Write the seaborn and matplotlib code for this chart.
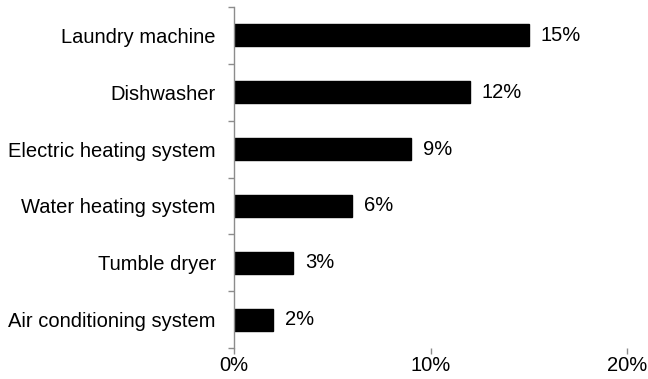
import matplotlib
matplotlib.use("Agg")
import matplotlib.pyplot as plt
import seaborn as sns
import pandas as pd
import numpy as np

categories = ["Laundry machine", "Dishwasher", "Electric heating system",
              "Water heating system", "Tumble dryer", "Air conditioning system"]
values = [15, 12, 9, 6, 3, 2]
xticks = [0, 10, 20]
xtick_labels = ["0%", "10%", "20%"]

sns.set_style("white")
plt.rcParams['font.family'] = ['Liberation Sans', 'DejaVu Sans']
plt.rcParams['text.color'] = 'black'
plt.rcParams['xtick.color'] = '#8c8c8c'
plt.rcParams['ytick.color'] = '#8c8c8c'
plt.rcParams['xtick.labelcolor'] = 'black'
plt.rcParams['ytick.labelcolor'] = 'black'

FS = 14.5

df = pd.DataFrame({"cat": categories, "val": values})

fig = plt.figure(figsize=(6.48, 3.79), dpi=100)
ax = fig.add_axes([234/648, 1-348/379, (627-234)/648, (348-7)/379])

sns.barplot(data=df, x="val", y="cat", color="black", width=0.39,
            saturation=1, ax=ax, edgecolor="black")

for i, v in enumerate(values):
    ax.text(v + 0.6, i, f"{v}%", va="center", ha="left", fontsize=FS, color="black")

ax.set_xlim(0, 20)
ax.set_ylim(len(categories) - 0.5, -0.5)
ax.set_xticks(xticks)
ax.set_xticklabels(xtick_labels, fontsize=FS)
ax.set_xlabel("")
ax.set_ylabel("")
ax.tick_params(axis="y", which="major", left=True, length=0, labelsize=FS, pad=13)
ax.set_yticks(np.arange(-0.5, len(categories), 1), minor=True)
ax.tick_params(axis="y", which="minor", left=True, length=4, color="#8c8c8c", width=1, direction="out")
ax.tick_params(axis="x", bottom=True, length=4, color="#8c8c8c", width=1, direction="out", pad=2)
for s in ["top", "right", "bottom"]:
    ax.spines[s].set_visible(False)
ax.spines["left"].set_color("#8c8c8c")
ax.spines["left"].set_linewidth(1)

fig.savefig("out.png", dpi=100)
